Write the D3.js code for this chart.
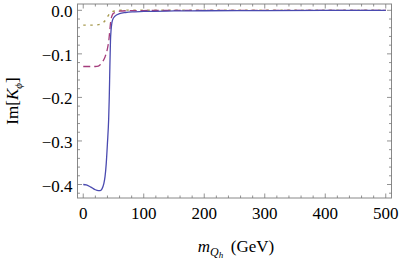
<!DOCTYPE html>
<html><head><meta charset="utf-8">
<script src="https://cdn.jsdelivr.net/npm/d3@7"></script>
<style>body{margin:0;background:#fff}svg{display:block}
text{font-family:"Liberation Serif","Times New Roman",Times,"DejaVu Serif",serif;}</style>
</head><body>
<svg id="c" width="399" height="262"></svg>
<script>
// ---- data ----
const xTicks = [0,100,200,300,400,500];
const yTicks = [0.0,-0.1,-0.2,-0.3,-0.4];
const blueX = [0,5,10,15,20,25,28,31,34,36,38,40,42,43,44,45,46,47,48.5,52,60,70,85,100,150,200,300,400,500];
const blueY = [-0.400,-0.401,-0.404,-0.408,-0.412,-0.414,-0.414,-0.410,-0.398,-0.382,-0.352,-0.305,-0.25,-0.20,-0.13,-0.07,-0.045,-0.032,-0.022,-0.014,-0.0075,-0.005,-0.0035,-0.0025,-0.0015,-0.001,-0.0005,-0.0003,-0.0002];
const purpleX = [0,10,20,25,28,32,36,40,42,43.5,45,46.5,48,50,55,60,70,100,200,500];
const purpleY = [-0.129,-0.129,-0.129,-0.128,-0.125,-0.118,-0.107,-0.088,-0.072,-0.052,-0.03,-0.017,-0.011,-0.007,-0.004,-0.002,-0.001,-0.0005,-0.0002,0];
const oliveX = [0,10,20,25,30,34,38,41,44,48,55,60,70,100,200,500];
const oliveY = [-0.034,-0.034,-0.034,-0.033,-0.031,-0.027,-0.02,-0.013,-0.007,-0.003,-0.001,0,0.0005,0.0003,0.0001,0];

const svg = d3.select("#c");
const L=77.5, R=391.5, T=4, B=198;
const x = d3.scaleLinear().domain([-9.5,509.5]).range([L,R]);
const y = d3.scaleLinear().domain([0.0145,-0.431]).range([T,B]);

// frame
svg.append("rect").attr("x",L).attr("y",T).attr("width",R-L).attr("height",B-T)
  .attr("fill","none").attr("stroke","#888").attr("stroke-width",1);

// ticks (inward)
const xMinor = d3.range(0,501,20);
const yMinor = d3.range(0,-0.43,-0.02);
const g = svg.append("g").attr("stroke","#777").attr("stroke-width",0.8);
xMinor.forEach(v=>{
  const major = xTicks.includes(v);
  const len = major?4.5:2.5;
  g.append("line").attr("x1",x(v)).attr("x2",x(v)).attr("y1",B).attr("y2",B-len);
  g.append("line").attr("x1",x(v)).attr("x2",x(v)).attr("y1",T).attr("y2",T+len);
});
yMinor.forEach(v=>{
  const major = Math.abs(Math.round(v*10)-v*10)<1e-6;
  const len = major?4.5:2.5;
  g.append("line").attr("y1",y(v)).attr("y2",y(v)).attr("x1",L).attr("x2",L+len);
  g.append("line").attr("y1",y(v)).attr("y2",y(v)).attr("x1",R).attr("x2",R-len);
});

// tick labels
svg.selectAll(".xl").data(xTicks).enter().append("text")
  .attr("x",d=>x(d)).attr("y",219).attr("text-anchor","middle")
  .attr("font-size",17).text(d=>d);
svg.selectAll(".yl").data(yTicks).enter().append("text")
  .attr("x",72.5).attr("y",d=>y(d)+7).attr("text-anchor","end")
  .attr("font-size",17)
  .text(d=>d===0?"0.0":"\u2212"+Math.abs(d).toFixed(1));

// axis labels
const xl = svg.append("text").attr("x",236).attr("y",252).attr("text-anchor","middle")
  .attr("font-size",17);
xl.append("tspan").attr("font-style","italic").text("m");
xl.append("tspan").attr("font-style","italic").attr("font-size",12).attr("dy",4).text("Q");
xl.append("tspan").attr("font-style","italic").attr("font-size",9).attr("dy",2).text("h");
xl.append("tspan").attr("dy",-6).text("\u2009 (GeV)");

const yl = svg.append("text").attr("transform","translate(18,101) rotate(-90)")
  .attr("text-anchor","middle").attr("font-size",17);
yl.append("tspan").text("Im[");
yl.append("tspan").attr("font-style","italic").text("K");
yl.append("tspan").attr("font-style","italic").attr("font-size",11).attr("dy",4).text("\u03d5");
yl.append("tspan").attr("dy",-4).text("]");

// curves
const line = d3.line().x(d=>x(d[0])).y(d=>y(d[1])).curve(d3.curveMonotoneX);
svg.append("clipPath").attr("id","cp").append("rect").attr("x",L).attr("y",T).attr("width",R-L).attr("height",B-T);
const cg = svg.append("g").attr("clip-path","url(#cp)").attr("fill","none");
cg.append("path").datum(oliveX.map((v,i)=>[v,oliveY[i]])).attr("d",line)
  .attr("stroke","#a89c52").attr("stroke-width",1.4).attr("stroke-dasharray","2.5,4.5");
cg.append("path").datum(purpleX.map((v,i)=>[v,purpleY[i]])).attr("d",line)
  .attr("stroke","#a43c7c").attr("stroke-width",1.3).attr("stroke-dasharray","7,4");
cg.append("path").datum(blueX.map((v,i)=>[v,blueY[i]])).attr("d",line)
  .attr("stroke","#4a4ab0").attr("stroke-width",1.3);
</script>
</body></html>
